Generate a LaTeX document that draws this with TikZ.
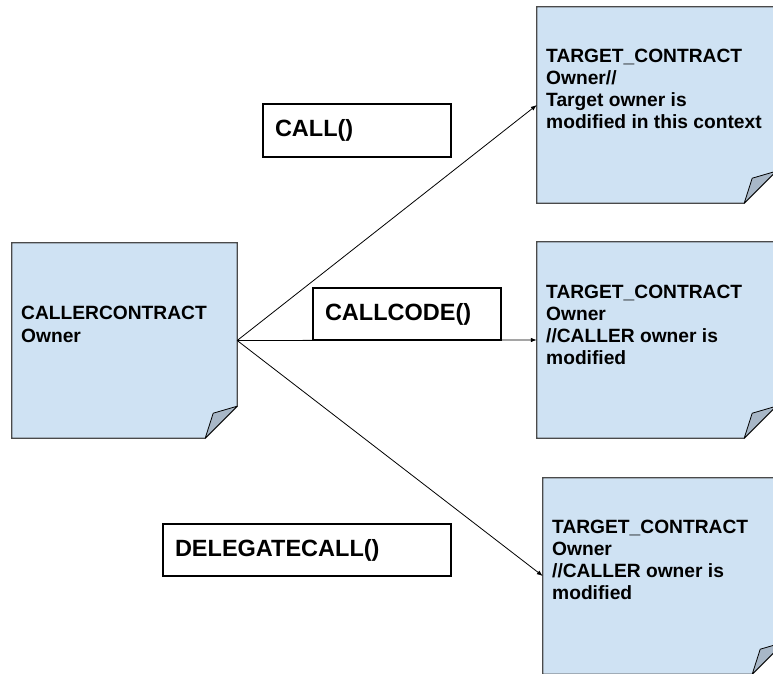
\documentclass[tikz,border=0pt]{standalone}
\usepackage{fontspec}
\setmainfont{Liberation Sans}
\usetikzlibrary{arrows.meta}
\definecolor{notefill}{HTML}{CFE2F3}
\definecolor{foldfill}{HTML}{A8B7C7}
\definecolor{noteline}{HTML}{4A4A4A}
\tikzset{
  notebox/.style={rectangle, inner sep=0pt, draw=none},
  notetext/.style={anchor=base west, align=left, inner sep=0pt, text=black,
    font=\bfseries\fontsize{19.2}{22.2}\selectfont},
  labelbox/.style={rectangle, draw=black, line width=1.3pt, fill=white, inner xsep=12pt, inner ysep=0pt,
    align=left, font=\bfseries\fontsize{23.5}{26}\selectfont},
  conn/.style={draw=black, line width=0.8pt, -{Latex[length=6pt,width=4.5pt]}}
}
\newcommand{\drawnote}[1]{%
  \fill[notefill] (#1.north west) -- (#1.north east) -- ([yshift=32pt]#1.south east)
     -- ([xshift=-32pt]#1.south east) -- (#1.south west) -- cycle;
  \draw[noteline, line width=1.2pt] (#1.north west) -- (#1.north east) -- ([yshift=32pt]#1.south east)
     -- ([xshift=-32pt]#1.south east) -- (#1.south west) -- cycle;
  \draw[fill=foldfill, draw=black, line width=0.8pt, line join=round]
     ([xshift=-32pt]#1.south east) -- ([xshift=-24pt,yshift=25pt]#1.south east)
     -- ([yshift=32pt]#1.south east) -- cycle;
}
\begin{document}
\begin{tikzpicture}[x=1pt,y=-1pt]
\useasboundingbox (0,0) rectangle (773,673);
\clip (0,0) rectangle (773,673);
\fill[white] (0,0) rectangle (773,673);

% notes
\node[notebox, minimum width=225pt, minimum height=195pt] (caller) at (124.5,340.5) {};
\node[notebox, minimum width=239pt, minimum height=196pt] (t1) at (656.5,105) {};
\node[notebox, minimum width=239pt, minimum height=196pt] (t2) at (656.5,340) {};
\node[notebox, minimum width=241pt, minimum height=196pt] (t3) at (663.5,576) {};
\drawnote{caller}
\drawnote{t1}
\drawnote{t2}
\drawnote{t3}

% base anchor = baseline of the last line
\node[notetext] (callertxt) at (21,342) {CALLERCONTRACT\\Owner};
\node[notetext] (t1txt) at (546,128.6) {TARGET\_CONTRACT\\Owner//\\Target owner is\\modified in this context};
\node[notetext] (t2txt) at (546,364.6) {TARGET\_CONTRACT\\Owner\\//CALLER owner is\\modified};
\node[notetext] (t3txt) at (552,599.6) {TARGET\_CONTRACT\\Owner\\//CALLER owner is\\modified};

% connectors
\draw[conn] (caller.east) -- (t1.west);
\draw[conn] (caller.east) -- (t2.west);
\draw[conn] (caller.east) -- (t3.west);

% labels
\node[labelbox, minimum width=188pt, minimum height=53pt, text width=164pt] (call) at (357,130.5) {CALL()};
\node[labelbox, minimum width=188pt, minimum height=52pt, text width=164pt] (callcode) at (407,314) {CALLCODE()};
\node[labelbox, minimum width=288pt, minimum height=52pt, text width=264pt] (delegate) at (307,550) {DELEGATECALL()};
\end{tikzpicture}
\end{document}
